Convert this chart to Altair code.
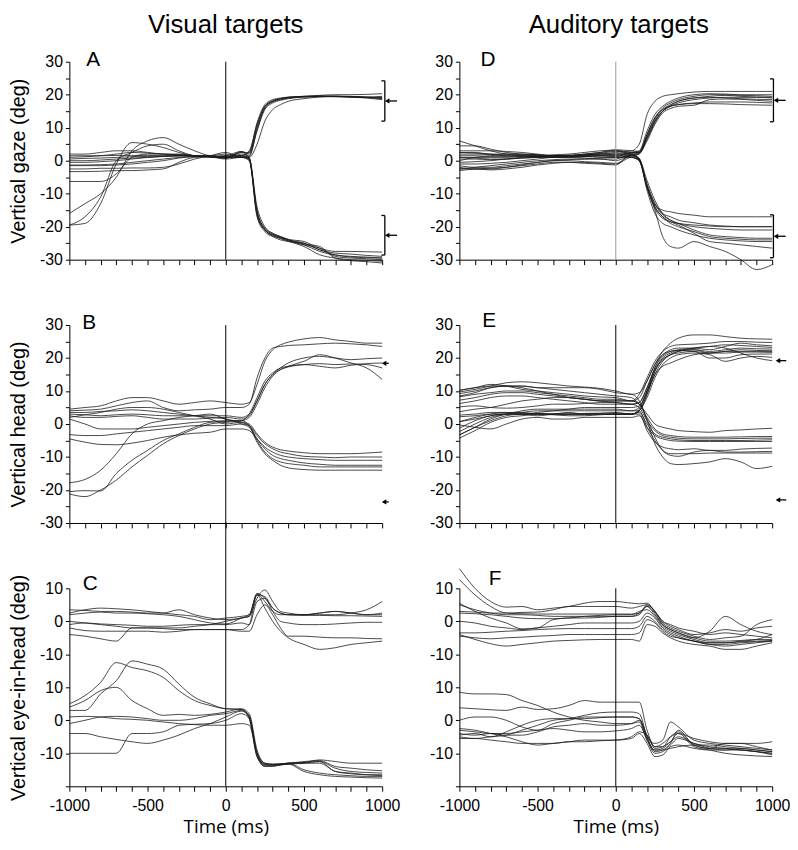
import altair as alt
import pandas as pd

# ---------------- time grid (ms) ----------------
T = [-1000, -900, -800, -700, -600, -500, -400, -300, -200, -100, 0,
     100, 150, 200, 250, 300, 350, 400, 500, 600, 700, 800, 900, 1000]
X_TICKS = list(range(-1000, 1001, 100))
GAZE_TICKS = list(range(-30, 31, 5))
EYE_TICKS = [10, 0, -10, -20, -30, -40, -50]
EYE_TICK_LABELS = ["10", "0", "-10", "10", "0", "-10", ""]
LOWER_OFFSET = -30

# ---------------- Panel A : vertical gaze, visual ----------------
A_PRE = [
    [-19.5, -19, -13, -1, 5.5, 5, 4, 2.5, 1.5, 1, 1],
    [-16, -13, -10, -5, 3, 6, 7, 5, 3, 1.5, 1.2],
    [-19.5, -17, -11, 0, 2.5, 4.5, 5, 3, 1.5, 1.2, 1],
    [-6.3, -6.3, -6.3, -4, 1, 2, 2, 2, 1.5, 1.2, 1],
    [-3.3, -3.3, -3.2, -3, -3, -2.8, -2.5, -0.5, 1, 1.2, 1.5],
    [-2.5, -2.5, -2.3, -2.3, -2.2, -2.2, -2, -1, 0.5, 1.5, 2.5],
    [-1.3, -1.3, -1.2, -1, -0.5, 0, 0.5, 1, 1.3, 1.5, 2],
    [0.5, 0.7, 0.8, 1, 1.2, 1.3, 1.4, 1.5, 1.5, 1.5, 1],
    [1.5, 1.5, 1.5, 1.6, 1.6, 1.6, 1.5, 1.5, 1.5, 1.3, 0.8],
    [1, 1.2, 1.5, 2, 2.5, 2.3, 2, 1.8, 1.5, 1.2, 0.5],
    [-0.5, -0.5, -0.3, 0, 0.5, 1, 1.3, 1.5, 1.5, 1.3, 1],
    [0, 0, 0.2, 0.5, 0.8, 1, 1.3, 1.5, 1.5, 1.3, 1.2],
    [2, 2, 2.5, 3, 3, 2.5, 2, 1.8, 1.5, 1.3, 0.7],
    [-1.5, -1.5, -1.5, -1.3, -1, -0.5, 0, 0.8, 1.2, 1.3, 1.5],
]
A_POST = [
    [1.5, 3, 11, 16.5, 18, 18.8, 19.2, 19.5, 19.6, 19.6, 19.5, 19.3, 19],
    [2.5, 2.5, 10, 16, 17.8, 18.5, 19, 19.5, 19.8, 20, 20, 20.1, 20.3],
    [1, 1.5, 9, 15.5, 17.5, 18.3, 18.8, 19.3, 19.5, 19.5, 19.4, 19.2, 18.8],
    [1.2, 1, 5, 12, 15.5, 17, 18, 18.8, 19.3, 19.5, 19.3, 19, 18.5],
    [2.8, 2, 10.5, 16.5, 18.2, 18.8, 19.2, 19.4, 19.5, 19.4, 19.3, 19.1, 19],
    [1, 1.2, 9.5, 16, 18, 18.7, 19, 19.3, 19.4, 19.4, 19.3, 19.2, 19.2],
    [1.5, 2.5, 11.5, 17, 18.5, 19, 19.3, 19.5, 19.6, 19.5, 19.4, 19.3, 19.5],
    [1.2, 0.5, -16, -21, -22.5, -23.3, -24, -25, -27, -28, -28.3, -28.7, -29],
    [2.5, 0.5, -15, -20.5, -22, -23, -23.8, -24.5, -26.5, -27.5, -27.5, -27.6, -27.7],
    [1, 0, -17, -21.5, -23, -24, -24.5, -26, -28.5, -29.5, -30, -30.2, -30.5],
    [2, 0.8, -14, -20, -22, -23, -24, -25.5, -26.5, -29, -29.5, -29.7, -30],
    [1, 0.3, -16.5, -21, -22.8, -23.5, -24.3, -25, -27, -28.5, -29, -29.2, -29.5],
    [2.8, 1, -15.5, -20.5, -22.3, -23.2, -24, -25.2, -26, -29.5, -30.3, -30.6, -31],
    [1.5, 0.5, -16, -21, -22.6, -23.6, -24.4, -25.5, -27.5, -28.6, -29.2, -29.4, -29.5],
]

# ---------------- Panel D : vertical gaze, auditory ----------------
D_PRE = [
    [6, 4.5, 3, 2, 1.5, 1.2, 1, 1.2, 1.5, 2, 2.5],
    [4.5, 4.5, 3.5, 2.5, 2, 1.8, 1.5, 1.5, 1.8, 2, 2],
    [3, 3, 3, 2.8, 2.5, 2, 1.5, 1.5, 2, 2.5, 3],
    [2.5, 2.5, 2, 2, 1.8, 1.5, 1.3, 1.5, 2, 2.5, 3.3],
    [2, 2, 1.8, 1.5, 1.5, 1.5, 1.8, 2, 2.5, 3, 3.2],
    [1.5, 1.5, 1.3, 1.3, 1.5, 1.5, 1.5, 1.7, 1.8, 2, 2],
    [1, 1, 1, 1, 1.2, 1.3, 1.3, 1.5, 1.5, 1.5, 1.5],
    [0.5, 0.5, 0.3, 0.5, 0.8, 1, 1.2, 1.5, 1.5, 1.5, 1.2],
    [-0.5, -0.3, 0, 0.5, 1, 1.3, 1.5, 1.5, 1.3, 1, 1],
    [-1, -1, -0.8, -0.5, 0, 0.5, 1, 1, 0.8, 0.5, 0.5],
    [-1.5, -2, -2, -1.5, -1, -0.5, 0, 0.3, 0.5, 0.5, 0],
    [-2, -2.5, -2.5, -2, -1.3, -0.5, 0, 0, -0.3, -0.5, -0.8],
    [-2.5, -2.5, -2.8, -2.5, -2, -1.3, -0.8, -0.5, -0.5, -0.8, -1],
    [-3, -2.5, -2.3, -2, -1.5, -1, -0.5, -0.5, -0.8, -1, -1.3],
    [0, 1, 1.5, 2, 2, 1.8, 1.5, 1.3, 1.3, 1.5, 1.5],
    [2.5, 2.3, 2, 1.5, 1.2, 1, 1, 1, 1.2, 1.5, 2],
    [-2.5, -2, -1.5, -1, -0.5, 0, 0.3, 0.5, 0.5, 0.8, 1],
    [1, 0.8, 0.5, 0.5, 0.8, 1, 1.2, 1.5, 1.8, 2.2, 2.8],
]
D_POST = [
    [3, 5, 14, 18, 19.5, 20, 20.3, 20.8, 21, 21, 21, 21, 21],
    [2.5, 3, 9, 14, 16.5, 18, 19, 20, 20.3, 20.2, 20, 20, 20],
    [2, 2.5, 8, 13, 16, 17.5, 18.5, 19.5, 20, 20, 19.8, 19.7, 19.5],
    [3, 2.8, 7, 12, 15, 16.5, 17.5, 18.5, 19, 19.2, 19.2, 19.2, 19],
    [2.5, 2.5, 7.5, 12.5, 15.5, 17, 18, 19, 19.2, 19, 18.8, 18.6, 18.5],
    [2, 2.3, 6, 11, 14.5, 15.8, 16.5, 16.8, 18.5, 18.7, 18.6, 18.3, 18],
    [1.5, 2, 6.5, 11.5, 15, 16.5, 17, 17.5, 17.8, 17.8, 17.8, 17.7, 17.5],
    [2.5, 2.5, 8, 13, 15.5, 16.5, 17, 17.3, 17.3, 17.2, 17, 16.9, 16.8],
    [1.5, 2.2, 7, 12, 15, 16.8, 18, 19, 19.5, 19.8, 19.5, 19.3, 19.2],
    [2, 0.5, -8, -13.5, -15, -15.5, -16, -16.5, -17, -17, -17, -17, -17],
    [1.5, 0, -8, -14, -17, -18.5, -19, -19.5, -19.8, -20, -20, -20, -20],
    [1.5, 0.5, -6, -12, -16, -18, -19, -20, -20.5, -20.8, -21, -21, -21],
    [1, 0, -7, -13, -16.5, -18, -19, -21, -22.5, -23, -23.3, -23.5, -23.5],
    [2, 0.5, -8, -14, -17, -19, -20, -21.5, -23, -23.5, -23.8, -24, -24],
    [1, 0, -9, -16, -19, -20, -21, -22.5, -23.5, -24, -24.3, -24.5, -24.5],
    [1.5, 0.3, -8, -15, -23, -26, -26.5, -24.5, -26, -27.5, -30, -33, -31.5],
    [1, 0.2, -8, -14.5, -17.5, -18.5, -19.5, -22, -24.5, -25, -25.5, -26, -26.5],
    [2, 0.8, -7.5, -13, -16, -17, -18, -18.8, -19.5, -19.8, -20, -20, -20],
]

# ---------------- Panel B : vertical head, visual ----------------
B_PRE = [
    [4.5, 5, 5.5, 7, 8, 8, 7, 6, 6.5, 7, 6.5],
    [4, 4.2, 4.5, 5.5, 6.5, 7, 5, 4, 4.3, 4.5, 5],
    [3, 2.8, 2.5, 2.8, 3, 2.8, 2.5, 2.5, 2.5, 2.5, 2.5],
    [-21.2, -22, -20, -17, -13, -9.5, -6, -3.5, -1.5, 0, 0.5],
    [2.5, 2, 2, 2.3, 2.5, 2, 1.5, 1.5, 1.5, 1.8, 2],
    [1.5, 0, -1.5, -1.5, -1.5, -1, -0.5, 0, 0.5, 0.8, 1],
    [2, 2.8, 3.5, 4.5, 5, 5, 4.5, 3.5, 2.5, 1.5, 0],
    [-3.2, -3.5, -3.5, -3, -2.5, -2, -1.5, -1, -0.5, -0.5, -0.5],
    [-4.5, -5.5, -6.2, -6.3, -5.8, -5, -4, -3.3, -2.8, -2.5, -1.5],
    [-17.8, -16.8, -14, -9, -3, 0, 1, 2, 2.5, 3, 1.5],
    [-20.5, -20.2, -20.3, -15, -11, -8, -5, -3, -1, 0.5, 0.8],
    [3.5, 3.5, 3.8, 4, 4.3, 4, 3.5, 3, 2.5, 2, 1.5],
]
B_POST = [
    [6, 6.5, 12, 19, 22.5, 24, 24.8, 25.8, 26.2, 25.5, 25, 24.5, 24.5],
    [5, 6, 14, 20, 23, 23.5, 23.8, 24, 24.3, 24.5, 24.3, 24, 23.5],
    [2, 3, 7, 12, 15, 17, 18.5, 20, 20.5, 20, 19.5, 19.8, 20],
    [1, 3, 8, 13, 15.5, 17, 17.5, 18, 17.5, 17, 17.8, 18.3, 18.5],
    [1.5, 2.5, 7, 12, 15, 16.5, 17.3, 18, 18.3, 18, 18.2, 18, 17],
    [1, 2, 6, 11, 14.5, 16.5, 17.5, 19, 21, 20, 18.5, 17, 13.5],
    [0.5, 0, -3, -5.5, -7, -7.8, -8.2, -8.7, -9, -9, -9, -8.8, -8.5],
    [0, -0.5, -3.5, -6, -7.5, -8.5, -9, -9.8, -10, -10.2, -10, -10, -10],
    [-1.5, -2, -4.5, -7, -8.5, -9.5, -10, -10.5, -10.8, -11, -11, -11, -11],
    [0.5, -0.5, -4.5, -7.5, -9.5, -10.5, -11, -11.8, -12.2, -12.5, -12.5, -12.5, -12.5],
    [1, -0.5, -5, -8.5, -10.5, -11.5, -12, -12.5, -13, -13, -13, -13, -13],
    [0, -1, -5.5, -9, -11, -12.5, -13.3, -13.8, -14, -14, -14, -14, -14],
]

# ---------------- Panel E : vertical head, auditory ----------------
E_PRE = [
    [9.7, 10.5, 11.5, 12.5, 12.8, 12.5, 12, 11.5, 11.2, 10.8, 10],
    [10.2, 11, 12, 11.5, 10.5, 10, 9.5, 9, 8.5, 8.2, 8],
    [8.2, 9, 9.5, 10, 10, 9.5, 9, 8.5, 8, 7.5, 7.5],
    [3.7, 4.5, 5, 6, 7, 7.5, 8, 8, 7.5, 7, 6.5],
    [2.7, 3, 3.5, 3.5, 3, 2.5, 3, 3.5, 3, 3, 3],
    [0.7, 2, 3, 3.5, 3.5, 3, 2.8, 2.5, 2.5, 2.8, 3],
    [-3.3, -1, 1, 2.5, 3, 3.2, 3, 3, 3, 3, 3],
    [-2.3, 0, 2, 3, 4, 4.5, 4.5, 4.5, 4.5, 4.5, 4.5],
    [-4.3, -2, 0.5, 2, 2.5, 3, 3, 3, 3.2, 3.3, 3.5],
    [5.2, 5.5, 5, 4.8, 5, 5.5, 6, 6, 6.2, 6.5, 6.5],
    [2.2, 2.5, 3, 3, 3, 3.5, 4, 4.5, 5, 5, 5],
    [9.2, 10, 11, 11.5, 11.5, 11, 10.5, 10, 9.5, 9, 8.5],
    [7.2, 8, 9, 9.5, 9.5, 9, 8.5, 8, 7.5, 7, 7],
    [6.2, 7, 8, 8.5, 8.5, 8, 7.5, 7, 6.5, 6, 6],
    [0.7, 1.5, 2.5, 3, 3, 3, 3, 3, 3, 3, 3],
    [-0.3, -1, -1.5, 0, 1.5, 2, 1.5, 1.5, 2, 2, 2],
    [-1.3, 1, 2.5, 3, 3, 3, 3, 3, 3, 3, 3],
    [8.5, 9.5, 11, 11.5, 11, 10, 9, 8, 7.5, 7, 7],
    [-3.3, -1, 1.5, 3, 3.5, 4, 4, 4, 4, 4, 4],
    [10.2, 11, 11.5, 11.5, 11.5, 11, 11, 11, 11, 10.5, 9.5],
]
E_POST = [
    [9, 9.5, 13, 18, 22, 24.5, 26, 27, 27, 26.5, 26, 25.8, 25.7],
    [7, 9, 14, 19, 22, 23.5, 24, 24.2, 24.5, 25, 25, 24.8, 24.7],
    [7, 8, 13, 18, 21, 22.5, 23, 23, 22.5, 23.5, 24.5, 24, 23.7],
    [6, 6.5, 11, 17, 20.5, 22, 22.5, 23, 23.5, 24, 23.8, 23.5, 23.2],
    [3, 4, 9, 16, 20, 21.5, 22.3, 22.5, 22, 22.5, 23, 22.8, 22.7],
    [3, 4.5, 10, 17, 21, 22, 22.3, 22, 21.5, 22, 22.5, 22.3, 22.2],
    [3, 4, 9, 15, 19, 21, 22, 22.5, 21.5, 21.5, 21.8, 21.8, 21.7],
    [4, 5, 10, 16, 19.5, 21, 21.5, 22, 20, 20, 21, 21.2, 21.2],
    [3, 4, 8, 14, 18, 20, 21, 21.5, 21, 19, 20, 20.5, 20.2],
    [6, 6.5, 11, 16.5, 19.5, 21, 22, 23, 23.5, 23, 21.5, 20, 19.2],
    [5, 5.5, 10, 15, 17.5, 18.5, 19.5, 21, 21.5, 22, 22, 22, 22],
    [8, 6, 3, 0, -1, -1.5, -2, -2.3, -2.5, -2, -1.8, -1.5, -1.3],
    [7, 6, 2, -1.5, -3, -3.5, -3.8, -4, -4, -4, -3.9, -3.8, -3.8],
    [6, 5, 1, -2, -3.5, -4, -4.3, -4.5, -4.5, -4.5, -4.4, -4.3, -4.3],
    [3, 3.5, 0, -3, -4, -4.5, -4.8, -5, -5, -5, -5, -4.9, -4.8],
    [2, 2.5, -1, -3.5, -4.5, -5, -5.2, -5.3, -5.3, -5.3, -5.3, -5.3, -5.3],
    [3, 3, -2, -5.5, -7, -7.5, -7.8, -7.5, -8, -8, -7.6, -7.4, -7.3],
    [7, 6, 1.5, -4, -8, -9.5, -9.8, -8.5, -8, -8.5, -8.5, -8.4, -8.3],
    [4, 4, -1, -5, -8, -9, -9, -9, -8.8, -8.8, -8.8, -8.8, -8.8],
    [9, 7, 1, -6, -10, -12, -12.3, -12, -11.5, -10.5, -11.5, -13.5, -12.8],
]

# ---------------- Panel C : eye-in-head, visual (upper: up targets, lower: down targets) ----------------
C_UP_PRE = [
    [2.5, 3.5, 4, 3.8, 3.5, 3, 2.5, 2, 1.5, 0.5, 1],
    [3.5, 3.3, 3, 3, 2.8, 2.5, 2.5, 3.5, 2, 1, 0.5],
    [-1, -0.5, -0.8, -1, -1.2, -1.5, -1.5, -1.2, -1, -1, -1],
    [-2, -2.8, -3, -3, -3, -3, -3.3, -3, -2.5, -2.5, -2.5],
    [-4, -4.5, -5.3, -6, -2, -2, -2.2, -2.5, -2.5, -2.5, -2.5],
    [0, -0.5, -1, -1.5, -2, -2, -2, -2, -1.5, -1, 0],
    [2, 2.5, 2.8, 2.5, 2.5, 2.3, 2, 1.5, 0.5, -0.5, -0.8],
]
C_UP_POST = [
    [1.5, 2, 8.3, 6, 3, 2, 2, 2, 2, 2, 2.5, 3.5, 6],
    [1, 1.5, 7, 9.5, 6, 3, 2.5, 2, 2.5, 3, 2.5, 2, 2.5],
    [-0.5, -1, 6, 7, 3, 0, -0.5, -1, -1, -0.8, -0.5, -0.3, -0.3],
    [-3, -3, 2, 5, 2, -2, -4.5, -4.5, -4.8, -5, -5, -5.2, -5.3],
    [-2.5, -1, 8, 4, 0, -3, -5, -7, -8.5, -8, -7, -6.5, -6],
    [1, 1.5, 8.5, 7, 4, 2.5, 2, 1.8, 1.8, 1.7, 1.7, 1.6, 1.5],
    [1, 2, 8, 7.5, 4, 2.5, 2, 2, 2.5, 3, 2.5, 2, 2],
]
C_DN_PRE = [
    [5, 7.5, 11.5, 17.5, 16, 15, 13, 9, 6, 4.5, 3.5],
    [3, 3, 8, 12, 18, 17, 15.5, 11, 7, 5, 3.5],
    [4, 6, 9, 10, 6, 3.5, 1.5, 1.8, 1.5, 1.8, 2.5],
    [-1, 0, 1, 1.2, 1, 0.5, 0, 0, 0.5, 1.5, 2],
    [-4, -4, -5, -5.8, -6.5, -7, -6, -4.5, -2.5, -1, 1],
    [-10, -10, -10, -10, -4, -4, -3.5, -1.5, -1.2, -1, 0],
    [1, 1.2, 1, 0.5, 0.3, 0, -0.5, -1, -1.3, -1.5, -1.5],
]
C_DN_POST = [
    [3.3, 1, -10, -13.5, -13.6, -13.5, -13.3, -13, -12.5, -15.5, -16, -16.5, -16.8],
    [3.3, 0.5, -11, -13.5, -13.5, -13.3, -13, -12.5, -12.2, -14, -14.5, -15, -15.3],
    [3.5, 2, -9, -13, -13.3, -13.2, -13, -12.8, -12, -12.5, -13, -13, -13],
    [3, 1.5, -10.5, -13.8, -13.8, -13.5, -13.3, -15.5, -16.5, -17, -17.2, -17.4, -17.5],
    [2.8, 1, -10, -13.2, -13.5, -13.3, -13, -15, -16, -16.5, -16.8, -17, -17],
    [2, 0.5, -11, -14, -14, -13.5, -13.2, -13, -13, -15.5, -16.2, -16.5, -16.5],
    [-1, -1.5, -10, -13, -13.3, -13.2, -13, -12.8, -12.5, -14.5, -15.5, -15.8, -16],
]

# ---------------- Panel F : eye-in-head, auditory ----------------
F_UP_PRE = [
    [16, 10, 6, 4.3, 4.5, 3.5, 4, 4.5, 5.5, 6, 6],
    [12.7, 8, 4.5, 2.5, 2.3, 2.2, 2.2, 2.2, 2.2, 2.2, 2.2],
    [5.5, 3, 1, -0.5, -2.3, -2, 0.5, 1, 1, 1.2, 1.5],
    [5, 3.5, 2.5, 2, 2, 1.8, 1.5, 1.5, 1.5, 1.5, 1.5],
    [2.5, 2.3, 2, 1.5, 1, 0.8, 0.8, 1, 1.5, 1.8, 2],
    [0, -0.5, -1.5, -2, -2.5, -2, -1.5, -1, -0.5, -0.5, -0.5],
    [-3.5, -3.5, -3.3, -3, -2.8, -2.5, -2.3, -2.2, -2.2, -2.2, -2.2],
    [-4, -5.5, -6.8, -7.5, -7, -6.5, -6, -5.8, -5.6, -5.5, -5.5],
    [-4.5, -5, -5.3, -5, -4.8, -4.5, -4.3, -4, -4, -4, -4],
    [3, 2.8, 2.5, 2.5, 2.7, 2.8, 3.5, 4.5, 4.5, 4.5, 4.5],
]
F_UP_POST = [
    [5.5, 5.3, 5.5, 3, 0, -1.5, -2.5, -4, -3.5, -2.5, -3, -2, -1.5],
    [2.2, 2.5, 4.5, 2, -1, -2.5, -3.5, -5, -3, 1.5, -1, -3, -4],
    [1.5, 2, 5, 3, -0.5, -2, -3, -4.5, -5.5, -5, -4.5, -1, 0.5],
    [1.5, 2.5, 4.5, 2.5, -1, -2.5, -3.5, -5, -6, -6, -5.8, -5.5, -5.5],
    [2, 3, 3.5, 1.5, -1.5, -3, -4, -5.5, -6.5, -6.5, -6, -5.5, -4],
    [-0.5, 0, 2.5, 1, -2, -3.5, -4.5, -6, -6.5, -6.5, -6.2, -6, -5.8],
    [-2.2, -1.5, 1.5, 0, -2.5, -4, -5, -6, -7, -7.5, -7, -6.5, -6],
    [-5.5, -6, -1, -1.5, -3.5, -5, -6, -7, -7.5, -8.5, -8.5, -7.5, -6.5],
    [-4, -3.5, 0.5, -0.5, -3, -4.5, -5, -6, -7, -7, -6.5, -6.2, -6],
    [4, 4.5, 5, 3, 0, -1, -2, -3, -4, -3.5, -4, -4.5, -5],
]
F_DN_PRE = [
    [8.5, 8, 8, 7.8, 6, 4.5, 2.5, 1, 0, -0.5, -1],
    [3.8, 3.5, 3.2, 3, 4, 3.3, 3.5, 4.5, 6, 5.5, 5.5],
    [0, 1, 1, 0, -2, -3, -1, 0, 1, 1, 1],
    [-2.5, -3, -4, -5, -6.5, -7.5, -7, -6.5, -6, -6, -6],
    [-4.5, -4, -5, -3.5, -1.5, 0, 0.5, 0.5, 0.5, 0.8, 1],
    [-5, -5.5, -5, -4.5, -3, -1.5, 0, 0.5, 1.5, 2.3, 2.5],
    [-5.5, -5.5, -6, -6.5, -7, -7, -7, -6.5, -6.5, -6.2, -6],
    [-3, -3.5, -4, -4, -3.5, -3, -2.5, -3, -3.5, -3.5, -3.2],
    [-4, -4.5, -4, -4.5, -4.5, -3.5, -2, -1.5, -1, -1.5, -1.5],
]
F_DN_POST = [
    [-1, -0.5, -6, -9, -9, -8.5, -8, -7.5, -7.5, -8, -8.5, -9, -9.5],
    [5.5, 5.5, -3, -8, -7, -5, -4, -5.5, -6.5, -7, -7, -7, -6.5],
    [1, 0.5, -5, -7, -6, -0.5, -2, -6, -7, -7.5, -8, -8.5, -9],
    [-5.5, -4, -7, -11, -10.5, -8, -7.5, -8.5, -9, -9, -8.5, -9, -9.5],
    [1, 0.5, -5.5, -9, -8.5, -6.5, -4, -8, -9, -10, -10.5, -10.8, -11],
    [2.5, 2, -5, -9.5, -9, -7, -3, -7.5, -8.5, -8.5, -9, -9.5, -10],
    [-5, -3.5, -4.5, -8.5, -8, -6.5, -5, -7, -8.5, -9, -9, -9.5, -10],
    [-2.5, -1.5, -6, -10, -9.5, -7.5, -5.5, -7, -8, -8.5, -9, -9.5, -10.5],
    [-1, 0, -4.5, -8, -8, -5, -3.5, -7.5, -8.5, -7, -7, -8, -9],
]

# ---------------- target markers (deg) ----------------
A_BRACKET_X = 1017
A_BRACKETS = [(24.2, 12.0), (-16.6, -28.6)]
A_ARROWS = [18.1, -22.6]
D_BRACKET_X = 1008
D_BRACKETS = [(24.8, 11.8), (-16.4, -29.4)]
D_ARROWS = [18.3, -22.9]
B_ARROWS = [18.4, -23.6]
E_ARROWS = [19.2, -23.0]

PANEL_W, PANEL_H = 316, 200
LINE_COLOR = "#1c1c1c"
SANS = "Liberation Sans"


def traces_df(pre, post, offset=0.0, start=0):
    rows = []
    for i, (a, b) in enumerate(zip(pre, post)):
        vals = list(a) + list(b)
        for t, v in zip(T, vals):
            rows.append({"t": t, "v": v + offset, "trace": start + i})
    return pd.DataFrame(rows)


def eye_label_expr():
    parts = []
    for val, lab in zip(EYE_TICKS, EYE_TICK_LABELS):
        parts.append(f"datum.value == {val} ? '{lab}' : ")
    return "".join(parts) + "''"


def marker_layers(bracket_x, brackets, arrows, ax0, ax1):
    segs = []
    heads = []
    if bracket_x is not None:
        for top, bot in brackets:
            segs.append({"t": bracket_x, "v": top, "t2": bracket_x, "v2": bot})
            segs.append({"t": bracket_x - 22, "v": top, "t2": bracket_x, "v2": top})
            segs.append({"t": bracket_x - 22, "v": bot, "t2": bracket_x, "v2": bot})
    for y in arrows:
        segs.append({"t": ax0 + 15, "v": y, "t2": ax1, "v2": y})
        heads.append({"t": ax0 + 12, "v": y})
    rules = alt.Chart(pd.DataFrame(segs)).mark_rule(color="black", strokeWidth=1.3).encode(
        x="t:Q", x2="t2:Q", y="v:Q", y2="v2:Q")
    pts = alt.Chart(pd.DataFrame(heads)).mark_point(
        shape="triangle-left", filled=True, size=28, color="black", opacity=1).encode(
        x="t:Q", y="v:Q")
    return [rules, pts]


def panel(df, kind, ytitle, bottom, letter, lx, ly, zero_color="black",
          zero_top=None, extras=(), col_title=None, col_x=158):
    if kind == "gaze":
        domain = [-30, 30]
        yaxis_kw = dict(values=GAZE_TICKS, tickCount=len(GAZE_TICKS) + 5,
                        labelExpr="datum.value % 10 == 0 ? '' + datum.value : ''")
    else:
        domain = [-50, 10]
        yaxis_kw = dict(values=EYE_TICKS, tickCount=len(EYE_TICKS) + 5,
                        labelExpr=eye_label_expr())
    if ytitle:
        yaxis_kw.update(title=ytitle, titleX=-51, titleBaseline="middle",
                        titleFont=SANS, titleFontSize=20, titleFontWeight="normal")
    else:
        yaxis_kw.update(title=None)
    yaxis = alt.Axis(tickSize=4, labelPadding=3, labelOverlap=False, labelBound=False, **yaxis_kw)

    if bottom:
        xaxis = alt.Axis(values=X_TICKS, tickCount=len(X_TICKS) + 5,
                         labelExpr="datum.value % 500 == 0 ? '' + datum.value : ''",
                         labelFlush=False, labelOverlap=False, labelBound=False, tickSize=5,
                         labelPadding=6, title="Time (ms)", titleFont="Open Sans",
                         titleFontSize=19, titleFontWeight="normal", titlePadding=5)
    else:
        xaxis = alt.Axis(values=X_TICKS, tickCount=len(X_TICKS) + 5, labels=False,
                         tickSize=5, title=None)

    lines = alt.Chart(df).mark_line(interpolate="monotone", color=LINE_COLOR,
                                    strokeWidth=0.8).encode(
        x=alt.X("t:Q", scale=alt.Scale(domain=[-1000, 1000], nice=False, zero=False), axis=xaxis),
        y=alt.Y("v:Q", scale=alt.Scale(domain=domain, nice=False, zero=False), axis=yaxis),
        detail="trace:N",
    )
    ztop = zero_top if zero_top is not None else domain[1]
    zero = alt.Chart(pd.DataFrame({"t": [0], "v": [domain[0]], "v2": [ztop]})).mark_rule(
        color=zero_color, strokeWidth=1).encode(x="t:Q", y="v:Q", y2="v2:Q")
    let = alt.Chart(pd.DataFrame({"s": [letter]})).mark_text(
        font=SANS, fontSize=21, align="center", baseline="alphabetic", color="black").encode(
        text="s:N", x=alt.value(lx), y=alt.value(ly))
    layers = [lines, zero, let] + list(extras)
    if col_title:
        layers.append(alt.Chart(pd.DataFrame({"s": [col_title]})).mark_text(
            font=SANS, fontSize=26, align="center", baseline="middle", color="black").encode(
            text="s:N", x=alt.value(col_x), y=alt.value(-37)))
    return alt.layer(*layers).properties(width=PANEL_W, height=PANEL_H)


dfA = traces_df(A_PRE, A_POST)
dfD = traces_df(D_PRE, D_POST)
dfB = traces_df(B_PRE, B_POST)
dfE = traces_df(E_PRE, E_POST)
dfC = pd.concat([traces_df(C_UP_PRE, C_UP_POST),
                 traces_df(C_DN_PRE, C_DN_POST, LOWER_OFFSET, start=100)])
dfF = pd.concat([traces_df(F_UP_PRE, F_UP_POST),
                 traces_df(F_DN_PRE, F_DN_POST, LOWER_OFFSET, start=100)])

pA = panel(dfA, "gaze", "Vertical gaze (deg)", False, "A", 24, 4,
           extras=marker_layers(A_BRACKET_X, A_BRACKETS, A_ARROWS, 1020, 1095),
           col_title="Visual targets", col_x=158)
pB = panel(dfB, "gaze", "Vertical head (deg)", False, "B", 20, 4,
           extras=marker_layers(None, [], B_ARROWS, 1000, 1042))
pC = panel(dfC, "eye", "Vertical eye-in-head (deg)", True, "C", 21, 2, zero_top=30)
pD = panel(dfD, "gaze", None, False, "D", 29, 4, zero_color="#999999",
           extras=marker_layers(D_BRACKET_X, D_BRACKETS, D_ARROWS, 1012, 1086),
           col_title="Auditory targets", col_x=161)
pE = panel(dfE, "gaze", None, False, "E", 30, 2,
           extras=marker_layers(None, [], E_ARROWS, 1025, 1090))
pF = panel(dfF, "eye", None, True, "F", 36, -3)

chart = alt.concat(pA, pD, pB, pE, pC, pF, columns=2,
                   spacing={"row": 66, "column": 78}, bounds="flush").properties(
    padding={"left": 0, "top": 0, "right": 0, "bottom": 0}
).configure_view(stroke=None).configure_axis(
    grid=False, domainColor="black", tickColor="black", labelColor="black",
    titleColor="black", labelFont=SANS, labelFontSize=16, domainWidth=1, tickWidth=1,
    labelOverlap=False,
)

chart.save("out.html", embed_options={"renderer": "svg", "actions": False})
